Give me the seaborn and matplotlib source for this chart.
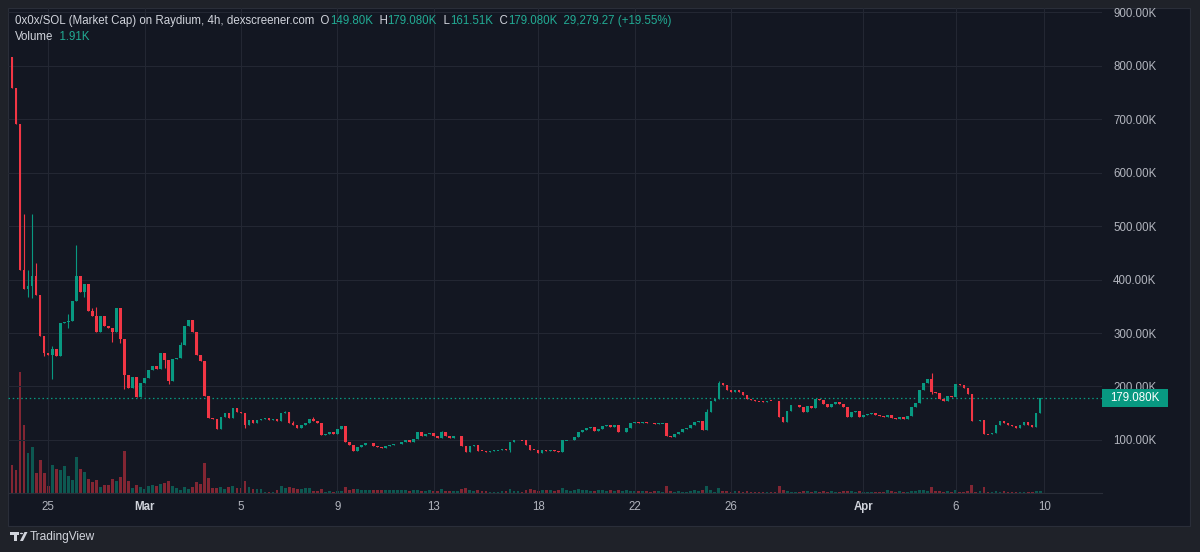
import numpy as np
import pandas as pd
import matplotlib
matplotlib.use("Agg")
import matplotlib.pyplot as plt
from matplotlib.patches import Rectangle, Circle, Polygon
from matplotlib.transforms import blended_transform_factory
import seaborn as sns

# 0x0x/SOL market cap, 4h candles, values in K
first_open = 817
closes = [
    759, 691, 418, 382, 388, 406, 372, 295, 263, 259,      # 0
    270, 257, 318, 320, 322, 359, 406, 376, 392, 342,      # 10
    331, 302, 331, 314, 310, 302, 346, 288, 222, 198,      # 20
    217, 180, 206, 215, 231, 239, 233, 263, 250, 211,      # 30
    251, 254, 278, 313, 324, 302, 259, 247, 183, 141,      # 40
    139, 120, 142, 150, 141, 159, 153, 150, 128, 137,      # 50
    131, 137, 140, 141, 137, 139, 136, 151, 152, 131,      # 60
    127, 122, 127, 131, 139, 136, 132, 110, 111, 114,      # 70
    111, 121, 126, 97, 90, 80, 87, 91, 94, 95,             # 80
    89, 87, 85, 89, 91, 92, 92.5, 96, 100, 96,             # 90
    102, 114, 107.5, 111, 113, 108, 104, 114, 108, 104,    # 100
    107, 107.5, 88, 77.5, 89, 90.6, 80, 79.4, 78, 80,      # 110
    80.7, 81, 83, 82, 95.6, 99.4, 100, 99, 91, 82,         # 120
    81, 76, 81, 80, 81, 79, 77, 99, 99.5, 100,             # 130
    105.6, 115.6, 118.8, 123, 124.4, 117.5, 121.3, 125.6, 127.5, 125,  # 140
    127.5, 114, 115.6, 123, 131, 133, 131, 134, 132, 131,  # 150
    129, 131, 131.5, 108, 106, 112, 115, 120, 123, 127,    # 160
    134, 134.5, 118, 153, 173, 176, 206, 203, 194, 190,    # 170
    194, 190, 184, 176, 174, 172.5, 172, 171.5, 173.5, 173,  # 180
    172.5, 143, 134, 155, 165, 166, 161, 152, 163, 159,    # 190
    176, 174, 168, 161, 168, 171, 168, 161, 143, 153,      # 200
    154, 143, 147, 149, 151, 147, 144, 143, 147, 141,      # 210
    140, 143.5, 140, 145, 162, 170, 194, 206, 214, 190,    # 220
    187, 176, 173, 183, 180, 205, 202, 198, 185, 136,      # 230
    135, 137, 111, 110.5, 113, 127, 135, 132, 128, 126,    # 240
    122, 127, 134, 127, 125, 151, 179.08,                  # 250
]

# candles with a visible wick: index -> (high, low)
wicks = {
    3: (523, 382), 4: (418, 368), 5: (523, 366), 6: (431, 372), 8: (295, 257),
    10: (275, 214), 14: (336, 310), 16: (465, 359), 18: (392, 367), 20: (346, 331),
    21: (348, 302), 25: (310, 284), 27: (346, 282), 28: (288, 195), 38: (263, 235),
    39: (250, 205), 42: (284, 254), 58: (150, 122), 68: (155, 151), 70: (135.6, 127),
    75: (142.5, 136), 102: (115.6, 107.5), 107: (116, 104), 124: (95.6, 78),
    173: (157, 118), 176: (210, 176), 229: (225, 185),
}

volumes = [
    23.0, 18.8, 100.2, 56.2, 33.2, 37.9, 16.4, 27.4, 16.4, 5.6,
    23.0, 20.2, 19.1, 22.2, 13.9, 10.5, 29.6, 19.9, 17.2, 11.9,
    9.1, 11.0, 5.0, 6.4, 6.4, 11.9, 9.7, 13.3, 34.6, 9.7,
    4.2, 6.4, 4.7, 3.6, 5.6, 6.4, 5.6, 7.5, 8.3, 10.2,
    6.1, 4.2, 2.7, 5.0, 3.6, 4.7, 8.9, 7.5, 24.9, 12.2,
    4.4, 4.4, 5.0, 3.1, 5.0, 5.8, 4.4, 4.4, 10.0, 5.0,
    3.3, 3.3, 3.3, 0.8, 0.8, 0.8, 2.5, 5.8, 4.4, 5.0,
    4.4, 3.3, 3.3, 3.9, 3.9, 1.7, 1.7, 3.3, 0.8, 1.7,
    0.8, 1.7, 1.7, 5.0, 2.5, 3.3, 3.3, 2.5, 2.5, 2.5,
    2.5, 2.5, 2.5, 2.5, 2.5, 2.5, 2.5, 2.5, 2.5, 1.7,
    2.2, 2.7, 1.7, 1.7, 2.2, 1.7, 1.7, 3.3, 1.7, 1.7,
    1.7, 1.7, 3.3, 3.9, 2.7, 1.7, 2.5, 1.7, 1.7, 0.8,
    0.8, 0.8, 1.7, 1.7, 3.3, 1.7, 1.7, 0.8, 2.5, 3.3,
    2.5, 1.7, 2.5, 2.5, 2.5, 1.7, 2.5, 3.9, 2.5, 1.7,
    2.5, 3.3, 2.5, 2.5, 1.7, 1.7, 2.5, 2.5, 1.7, 2.5,
    1.7, 2.5, 1.7, 2.5, 1.7, 1.7, 1.7, 1.7, 1.7, 1.1,
    1.7, 1.7, 1.1, 5.6, 1.7, 1.1, 1.7, 1.1, 1.1, 1.7,
    2.2, 1.7, 2.2, 5.6, 2.2, 1.1, 3.9, 1.7, 1.7, 1.1,
    1.7, 1.7, 1.1, 1.7, 1.1, 1.1, 1.1, 1.1, 1.1, 1.1,
    1.1, 5.6, 2.2, 1.7, 1.1, 1.1, 1.1, 1.7, 1.7, 1.1,
    1.7, 1.1, 1.7, 1.1, 1.7, 1.1, 1.1, 1.7, 1.7, 1.7,
    1.1, 1.7, 1.1, 1.1, 0.6, 1.1, 1.1, 1.1, 2.2, 1.7,
    0.6, 1.7, 1.1, 0.6, 1.7, 1.7, 2.2, 2.2, 1.7, 5.0,
    1.7, 1.7, 0.6, 1.7, 0.6, 2.2, 0.6, 0.6, 1.7, 6.6,
    1.1, 1.7, 5.0, 1.1, 1.1, 1.7, 1.1, 1.7, 1.1, 1.1,
    1.1, 1.1, 1.1, 0.6, 1.1, 1.7, 1.91,
]

date_pos = [9, 33, 57, 81, 105, 131, 155, 179, 212, 235, 257]
date_labels = ["25", "Mar", "5", "9", "13", "18", "22", "26", "Apr", "6", "10"]
price_ticks = [100, 200, 300, 400, 500, 600, 700, 800, 900]
last_price = 179.08

header = [
    ("0x0x/SOL (Market Cap) on Raydium, 4h, dexscreener.com", "txt"),
    ("  O", "txt"), ("149.80K", "val"),
    ("  H", "txt"), ("179.080K", "val"),
    ("  L", "txt"), ("161.51K", "val"),
    ("  C", "txt"), ("179.080K", "val"),
    ("  29,279.27 (+19.55%)", "val"),
]

# colours
UP = "#089981"
DOWN = "#f23645"
PANE = "#131722"
OUTER = "#1f2229"
GRID = "#232733"
AXIS_TXT = "#b2b5be"
HEAD_TXT = "#d1d4dc"
VAL = "#22ab94"

sns.set_theme(style="dark")
plt.rcParams["font.family"] = ["Liberation Sans", "DejaVu Sans"]

W, H = 1200, 552
fig = plt.figure(figsize=(W / 100, H / 100), dpi=100, facecolor=OUTER)

def fx(px):
    return px / W

def fy(py):
    return 1 - py / H

# chart pane (plot + axes area)
fig.add_artist(Rectangle((fx(8), fy(526)), (1190 - 8) / W, (526 - 8) / H,
                         transform=fig.transFigure, fc=PANE, ec="#2a2e39", lw=0.8, zorder=-10))

left, right, top, bottom = 8, 1102, 8, 493
ax = fig.add_axes([fx(left), fy(bottom), (right - left) / W, (bottom - top) / H])
ax_v = ax.twinx()
ax.set_zorder(ax_v.get_zorder() + 1)
ax.patch.set_visible(False)
ax_v.patch.set_visible(False)

n = len(closes)
idx = np.arange(n)
c = np.array(closes, dtype=float)
o = np.array([first_open] + closes[:-1], dtype=float)
hi = np.maximum(o, c)
lo = np.minimum(o, c)
for i, (h, l) in wicks.items():
    hi[i] = max(hi[i], h)
    lo[i] = min(lo[i], l)
up = c >= o
cols = np.where(up, UP, DOWN)

# volume, drawn behind the candles
vol_df = pd.DataFrame({"i": idx, "vol": volumes, "dir": np.where(up, "up", "down")})
sns.barplot(data=vol_df, x="i", y="vol", hue="dir", palette={"up": UP, "down": DOWN},
            native_scale=True, dodge=False, width=0.7, alpha=0.5, saturation=1,
            errorbar=None, legend=False, linewidth=0, ax=ax_v)
ax_v.set_ylim(0, 402.6)
ax_v.set_yticks([])
ax_v.set_xlabel("")
ax_v.set_ylabel("")
for s in ax_v.spines.values():
    s.set_visible(False)

# candles
body_lo = np.minimum(o, c)
body_h = np.abs(c - o)
small = body_h < 1.3
body_lo = np.where(small, (o + c) / 2 - 0.65, body_lo)
body_h = np.where(small, 1.3, body_h)
ax.vlines(idx, lo, hi, colors=cols, lw=0.8, zorder=3)
ax.bar(idx, body_h, bottom=body_lo, width=0.66, color=cols, lw=0, zorder=4)

ax.set_xlim(-1.0, 271.4)
ax.set_ylim(0.7, 908)

# last price line and label
ax.axhline(last_price, color=UP, lw=0.9, ls=(0, (1.2, 2.2)), zorder=2)
tr = blended_transform_factory(ax.transAxes, ax.transData)
ax.add_patch(Rectangle((1.0, last_price - 16.9), 66 / (right - left), 33.8, transform=tr,
                       fc=UP, ec="none", clip_on=False, zorder=10))
ax.text(1.0 + 33 / (right - left), last_price, f"{last_price:.3f}K", transform=tr,
        ha="center", va="center", color="white", fontsize=8.3, zorder=11, clip_on=False)

# axes styling
ax.yaxis.tick_right()
ax.set_yticks(price_ticks)
ax.set_yticklabels([f"{v:.2f}K" for v in price_ticks])
ax.set_xticks(date_pos)
ax.set_xticklabels(date_labels)
ax.tick_params(axis="y", length=0, pad=8, labelsize=8.3, colors=AXIS_TXT)
ax.tick_params(axis="x", length=0, pad=5.5, labelsize=8.3, colors=AXIS_TXT)
for lab in ax.get_xticklabels():
    if lab.get_text() in ("Mar", "Apr"):
        lab.set_fontweight("bold")
        lab.set_color(HEAD_TXT)
ax.set_axisbelow(True)
ax.grid(True, color=GRID, lw=0.75)
for name, s in ax.spines.items():
    s.set_visible(name == "bottom")
ax.spines["bottom"].set_color("#2a2e39")
ax.spines["bottom"].set_linewidth(0.8)

# legend header
renderer = fig.canvas.get_renderer()
x = 15
for txt, kind in header:
    t = fig.text(fx(x), fy(21), txt, color=HEAD_TXT if kind == "txt" else VAL,
                 fontsize=8.3, ha="left", va="center")
    x += t.get_window_extent(renderer).width
t = fig.text(fx(15), fy(37), "Volume", color=HEAD_TXT, fontsize=8.3, ha="left", va="center")
x = 15 + t.get_window_extent(renderer).width
fig.text(fx(x), fy(37), "  1.91K", color=VAL, fontsize=8.3, ha="left", va="center")

# TradingView mark
logo = "#d1d4dc"
def px_rect(x0, y0, w, h):
    fig.add_artist(Rectangle((fx(x0), fy(y0 + h)), w / W, h / H, transform=fig.transFigure,
                             fc=logo, ec="none"))
px_rect(10, 532, 9, 3)
px_rect(13.5, 532, 3, 9)
fig.add_artist(Circle((fx(21.5), fy(533.5)), 1.6 / W, transform=fig.transFigure, fc=logo, ec="none"))
fig.add_artist(Polygon([(fx(20), fy(541)), (fx(24.5), fy(532)), (fx(27.5), fy(532)), (fx(23), fy(541))],
                       closed=True, transform=fig.transFigure, fc=logo, ec="none"))
fig.text(fx(30), fy(537), "TradingView", color=logo, fontsize=8.6, ha="left", va="center")

fig.savefig("out.png", dpi=100, facecolor=OUTER)
